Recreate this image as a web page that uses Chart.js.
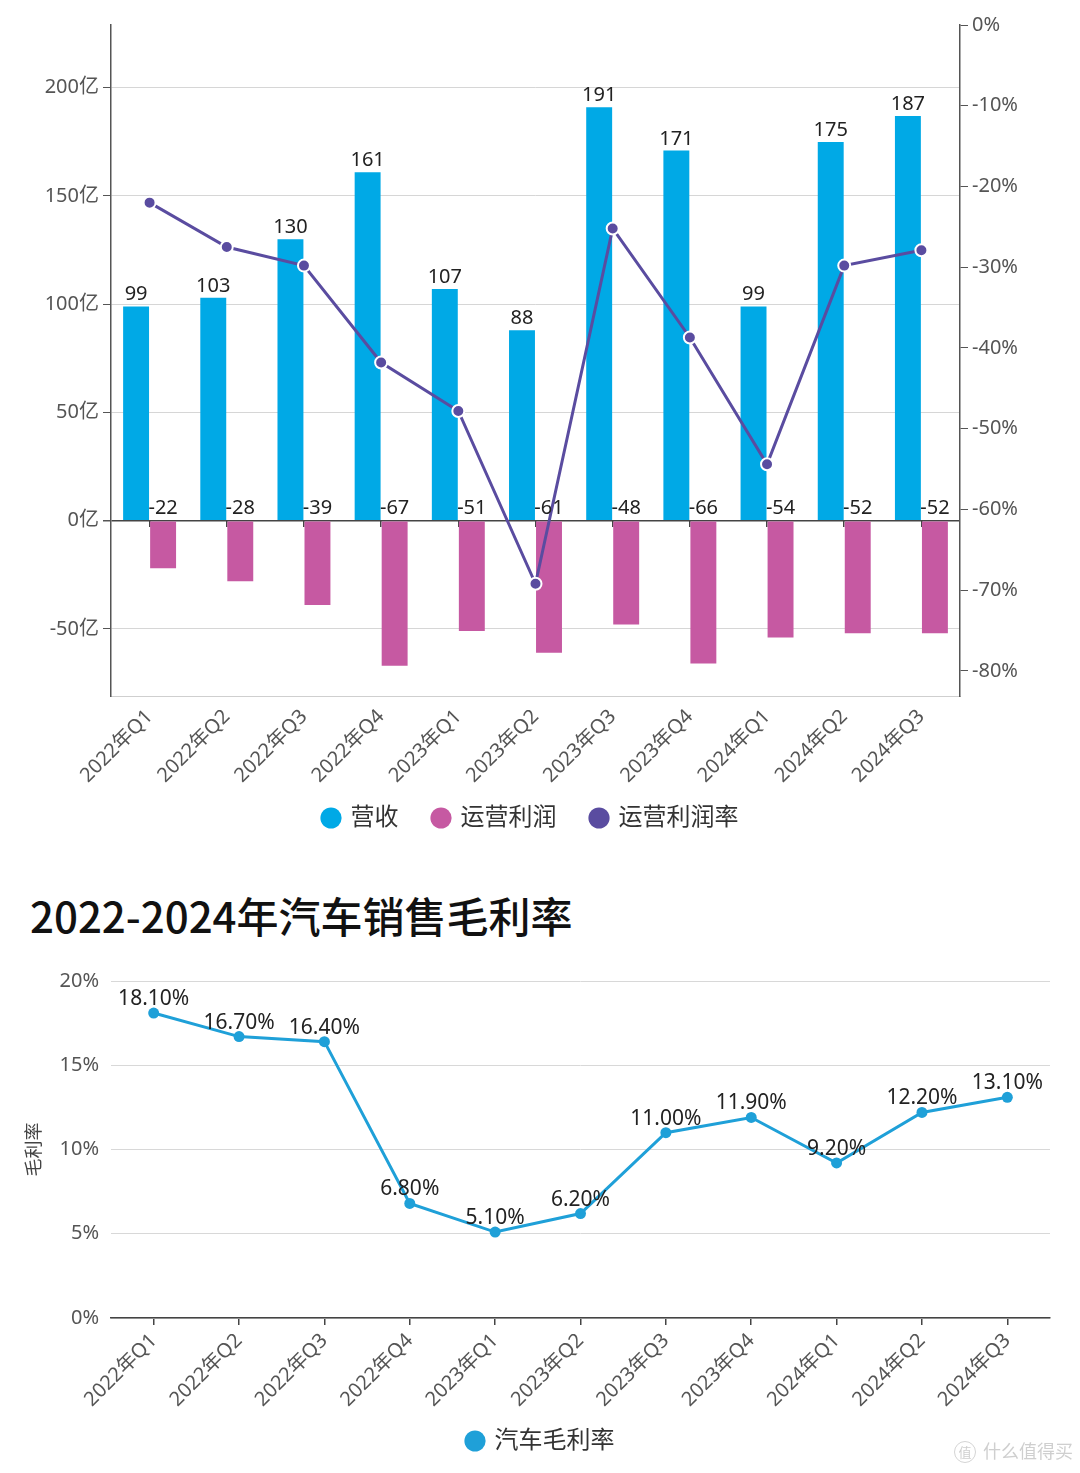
<!DOCTYPE html>
<html>
<head>
<meta charset="utf-8">
<script src="https://cdn.jsdelivr.net/npm/chart.js@4.4.1/dist/chart.umd.min.js"></script>
<style>
  html, body { margin: 0; padding: 0; background: #fff; }
  #wrap { position: relative; width: 1080px; height: 1473px; background: #fff; overflow: hidden; }
  #c1 { position: absolute; left: 0; top: 0; }
  #c2 { position: absolute; left: 0; top: 950px; }
  #title2 { position: absolute; left: 30px; top: 890px; height: 50px; line-height: 50px;
    font-family: "Noto Sans CJK SC", "Noto Sans", sans-serif; font-size: 42px; font-weight: 500; color: #111; white-space: nowrap; }
  #wm { position: absolute; left: 954px; top: 1438px; font-family: "Noto Sans CJK SC", sans-serif;
    font-size: 18px; line-height: 24px; color: #cfcfcf; white-space: nowrap; }
  #wm span { display: inline-block; width: 20px; height: 20px; line-height: 19px; text-align: center;
    border: 1.5px solid #d4d4d4; border-radius: 50%; font-size: 13px; margin-right: 7px; vertical-align: 1px; }
</style>
</head>
<body>
<div id="wrap">
  <canvas id="c1" width="1080" height="850"></canvas>
  <div id="title2">2022-2024年汽车销售毛利率</div>
  <canvas id="c2" width="1080" height="523"></canvas>
  <div id="wm"><span>值</span>什么值得买</div>
</div>
<script>
// ---------- data ----------
const categories = ['2022年Q1','2022年Q2','2022年Q3','2022年Q4','2023年Q1','2023年Q2','2023年Q3','2023年Q4','2024年Q1','2024年Q2','2024年Q3'];
const revenue = [99, 103, 130, 161, 107, 88, 191, 171, 99, 175, 187];
const operatingProfit = [-22, -28, -39, -67, -51, -61, -48, -66, -54, -52, -52];
const operatingMargin = [-22.0, -27.5, -29.8, -41.8, -47.8, -69.2, -25.2, -38.7, -54.4, -29.8, -27.9];
const leftTicks = [-50, 0, 50, 100, 150, 200];
const rightTicks = [-80, -70, -60, -50, -40, -30, -20, -10, 0];
const grossMargin = [18.1, 16.7, 16.4, 6.8, 5.1, 6.2, 11.0, 11.9, 9.2, 12.2, 13.1];
const grossTicks = [0, 5, 10, 15, 20];

Chart.defaults.font.family = '"Noto Sans", "Noto Sans CJK SC", sans-serif';
Chart.defaults.color = '#555';
Chart.defaults.animation = false;

const BLUE = '#00a9e6', MAGENTA = '#c659a2', PURPLE = '#5a4ca0', LINEBLUE = '#1fa0d8';

// value label plugin: draws texts at element positions given by the library
const valueLabels = {
  id: 'valueLabels',
  afterDatasetsDraw(chart) {
    const ctx = chart.ctx;
    chart.data.datasets.forEach((ds, i) => {
      if (!ds.labelMode) return;
      const meta = chart.getDatasetMeta(i);
      if (meta.hidden) return;
      ctx.save();
      ctx.font = (ds.labelSize || 20) + 'px "Noto Sans", "Noto Sans CJK SC", sans-serif';
      ctx.fillStyle = '#222';
      ctx.textAlign = 'center';
      ctx.textBaseline = 'alphabetic';
      meta.data.forEach((el, j) => {
        const v = ds.data[j];
        const text = ds.labelFormat ? ds.labelFormat(v) : String(v);
        let y;
        if (ds.labelMode === 'base') y = el.base - 7;
        else y = el.y - (ds.labelOffset || 6);
        ctx.fillText(text, el.x, y);
      });
      ctx.restore();
    });
  }
};

function legendLabels(chart) {
  const items = Chart.defaults.plugins.legend.labels.generateLabels(chart);
  items.forEach(it => { it.strokeStyle = it.fillStyle; it.lineWidth = 0; });
  return items;
}

// fixed-height x axis whose rotated labels may run past the axis box (no label clipping)
function fixedXHeight(h) {
  return s => { s.height = h; s._computeLabelArea = () => undefined; };
}

// ---------- chart 1 ----------
new Chart(document.getElementById('c1'), {
  type: 'bar',
  data: {
    labels: categories,
    datasets: [
      { label: '营收', data: revenue, backgroundColor: BLUE, yAxisID: 'y', order: 1,
        categoryPercentage: 0.7, barPercentage: 0.96, labelMode: 'top' },
      { label: '运营利润', data: operatingProfit, backgroundColor: MAGENTA, yAxisID: 'y', order: 1,
        categoryPercentage: 0.7, barPercentage: 0.96, labelMode: 'base' },
      { type: 'line', label: '运营利润率', data: operatingMargin, yAxisID: 'y1', order: 0,
        borderColor: PURPLE, backgroundColor: PURPLE, borderWidth: 3, tension: 0,
        pointRadius: 6, pointBackgroundColor: PURPLE, pointBorderColor: '#fff', pointBorderWidth: 2 }
    ]
  },
  options: {
    responsive: false,
    layout: { padding: { left: 0, right: 18, top: 25, bottom: 10 } },
    plugins: {
      legend: {
        position: 'bottom',
        labels: { usePointStyle: true, pointStyle: 'circle', boxWidth: 15, boxHeight: 15, padding: 35,
          font: { size: 24 }, color: '#333', generateLabels: legendLabels,
          sort: (a, b) => a.datasetIndex - b.datasetIndex }
      },
      tooltip: { enabled: false }
    },
    scales: {
      x: {
        offset: true,
        grid: { display: true, drawOnChartArea: false, drawTicks: false },
        border: { color: '#cfcfcf', width: 1 },
        ticks: { autoSkip: false, minRotation: 45, maxRotation: 45, padding: 9, font: { size: 20 }, color: '#555' },
        afterFit: fixedXHeight(75)
      },
      x2: {
        type: 'category', position: { y: 0 }, offset: true,
        ticks: { display: false },
        grid: { display: true, drawOnChartArea: false, offset: false, tickLength: 6, tickColor: '#444', lineWidth: 1.5 },
        border: { display: false }
      },
      y: {
        position: 'left', min: -81, max: 229,
        afterBuildTicks: s => { s.ticks = leftTicks.map(v => ({ value: v })); },
        afterFit: s => { s.width = 111; },
        ticks: { callback: v => v + '亿', font: { size: 20 }, color: '#555', padding: 4 },
        grid: { color: c => c.tick && c.tick.value === 0 ? '#444' : '#d6d6d6',
                lineWidth: c => c.tick && c.tick.value === 0 ? 1.5 : 1,
                tickColor: '#555', tickLength: 8 },
        border: { color: '#555', width: 1.5 }
      },
      y1: {
        position: 'right', min: -83.1, max: 0,
        afterBuildTicks: s => { s.ticks = rightTicks.map(v => ({ value: v })); },
        afterFit: s => { s.width = 102; },
        ticks: { callback: v => v + '%', font: { size: 20 }, color: '#555', padding: 4 },
        grid: { drawOnChartArea: false, tickColor: '#555', tickLength: 8 },
        border: { color: '#555', width: 1.5 }
      }
    }
  },
  plugins: [valueLabels]
});

// ---------- chart 2 ----------
new Chart(document.getElementById('c2'), {
  type: 'line',
  data: {
    labels: categories,
    datasets: [
      { label: '汽车毛利率', data: grossMargin, borderColor: LINEBLUE, backgroundColor: LINEBLUE,
        borderWidth: 3, tension: 0, pointRadius: 5.5, pointBackgroundColor: LINEBLUE,
        pointBorderColor: LINEBLUE, pointBorderWidth: 0,
        labelMode: 'top', labelOffset: 8, labelSize: 21, labelFormat: v => v.toFixed(2) + '%' }
    ]
  },
  options: {
    responsive: false,
    layout: { padding: { left: 32, right: 30, top: 31, bottom: 10 } },
    plugins: {
      legend: {
        position: 'bottom',
        labels: { usePointStyle: true, pointStyle: 'circle', boxWidth: 15, boxHeight: 15, padding: 10,
          font: { size: 24 }, color: '#333', generateLabels: legendLabels }
      },
      tooltip: { enabled: false }
    },
    scales: {
      x: {
        offset: true,
        grid: { display: true, drawOnChartArea: false, offset: false, tickLength: 7, tickColor: '#444', lineWidth: 1.5 },
        border: { color: '#444', width: 1.5 },
        ticks: { autoSkip: false, minRotation: 45, maxRotation: 45, padding: 4, font: { size: 20 }, color: '#555' },
        afterFit: fixedXHeight(101)
      },
      y: {
        min: 0, max: 20,
        afterBuildTicks: s => { s.ticks = grossTicks.map(v => ({ value: v })); },
        afterFit: s => { s.width = 79; },
        ticks: { callback: v => v + '%', font: { size: 20 }, color: '#555', padding: 12 },
        grid: { color: '#d8d8d8', drawTicks: false },
        border: { display: false },
        title: { display: true, text: '毛利率', font: { size: 18 }, color: '#444', padding: { top: -8, bottom: 0 } }
      }
    }
  },
  plugins: [valueLabels]
});
</script>
</body>
</html>
